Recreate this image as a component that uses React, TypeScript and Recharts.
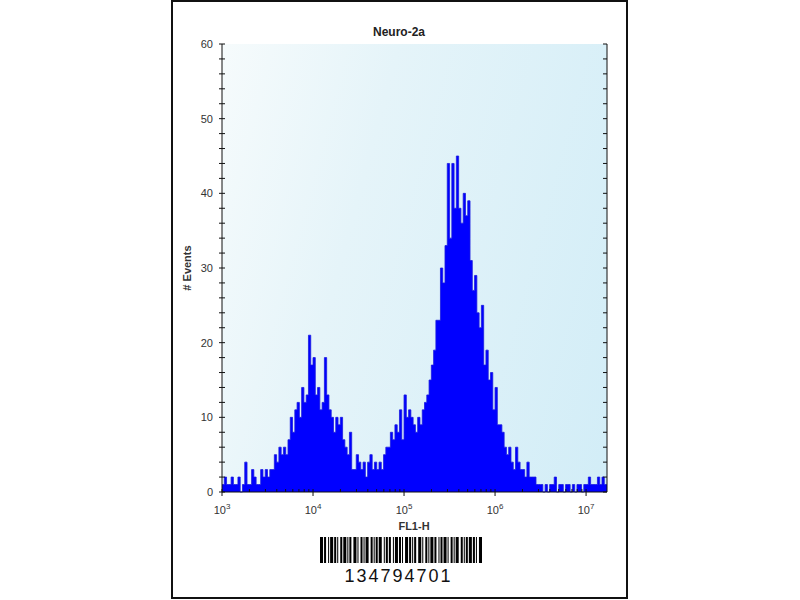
import { Area, ComposedChart, XAxis, YAxis } from 'recharts';

// FL1-H histogram, log10 channel bins starting at 10^3
const BIN_START = 3;
const BIN_WIDTH = 0.025;
const X_MAX = 7.23;

const events = [
  1, 2, 1, 1, 2, 1, 1, 2, 0, 1,
  4, 1, 1, 3, 2, 1, 1, 3, 2, 3,
  2, 3, 3, 5, 4, 6, 5, 6, 5, 7,
  10, 8, 11, 12, 10, 14, 12, 13, 21, 17,
  18, 13, 14, 11, 12, 18, 13, 11, 10, 8,
  10, 9, 10, 7, 6, 5, 8, 3, 3, 5,
  4, 3, 4, 2, 4, 5, 3, 4, 3, 4,
  3, 5, 6, 6, 8, 7, 9, 8, 11, 7,
  13, 10, 11, 10, 9, 8, 10, 9, 11, 12,
  13, 15, 17, 19, 23, 23, 30, 28, 33, 44,
  34, 44, 38, 45, 38, 36, 40, 37, 39, 31,
  27, 29, 24, 22, 25, 17, 19, 15, 16, 11,
  14, 9, 9, 8, 6, 5, 6, 4, 3, 6,
  4, 3, 3, 2, 4, 2, 2, 2, 1, 1,
  1, 0, 1, 0, 1, 1, 2, 0, 1, 1,
  0, 1, 1, 0, 1, 0, 1, 1, 0, 1,
  1, 2, 1, 1, 1, 2, 1, 2, 1, 1
];

const yTicks = [0, 2, 4, 6, 8, 10, 12, 14, 16, 18, 20, 22, 24, 26, 28, 30, 32, 34, 36, 38, 40, 42, 44, 46, 48, 50, 52, 54, 56, 58, 60];
const decades = [3, 4, 5, 6, 7];
const minorSteps = [2, 3, 4, 5, 6, 7, 8, 9];

const title = 'Neuro-2a';
const xLabel = 'FL1-H';
const yLabel = '# Events';
const barcodeText = '134794701';
// alternating bar / space widths of the barcode
const barcodeModules = [
  3, 1, 2, 2, 1, 1, 3, 1, 2, 1, 1, 2, 2, 1, 3, 1, 1, 1, 2, 2,
  3, 1, 1, 2, 2, 1, 1, 1, 3, 2, 2, 1, 1, 1, 2, 1, 3, 2, 1, 1,
  2, 1, 2, 2, 1, 1, 3, 1, 2, 1, 1, 2, 3, 1, 2, 1, 1, 1, 2, 2,
  3, 1, 1, 2, 2, 1, 1, 1, 3, 1, 2, 2, 1, 1, 2, 1, 3, 1, 1, 2,
  2, 1, 1, 1, 3, 2, 2, 1, 1, 1, 2, 1, 3, 1, 2, 1, 1, 2, 3
];

const xTicks = decades.flatMap((d) => [d, ...minorSteps.map((m) => d + Math.log10(m))]).filter((t) => t <= X_MAX);

const chartData = [
  ...events.map((count, i) => ({ fl1: BIN_START + i * BIN_WIDTH, count })),
  { fl1: BIN_START + events.length * BIN_WIDTH, count: events[events.length - 1] }
];

const font = '"Liberation Sans", Arial, sans-serif';
const isMajor = (v: number) => Math.abs(v - Math.round(v)) < 1e-6;

function BottomTick({ x, y, payload }: any) {
  const v = payload.value;
  if (!isMajor(v)) {
    return <line x1={x} x2={x} y1={y - 3} y2={y} stroke="#111" />;
  }
  return (
    <g>
      <line x1={x} x2={x} y1={y - 3} y2={y + 4} stroke="#111" />
      <text x={x} y={y + 22} textAnchor="middle" fontFamily={font} fontSize={11} fill="#333">
        <tspan>10</tspan>
        <tspan dy={-5} fontSize={8}>{Math.round(v)}</tspan>
      </text>
    </g>
  );
}

function TopTick({ x, y, payload }: any) {
  const len = isMajor(payload.value) ? 4 : 3;
  return <line x1={x} x2={x} y1={y} y2={y + len} stroke="#111" />;
}

function LeftTick({ x, y, payload }: any) {
  const v = payload.value;
  return (
    <g>
      <line x1={x - 3} x2={x + 3} y1={y} y2={y} stroke="#111" />
      {v % 10 === 0 && (
        <text x={x - 9} y={y + 4} textAnchor="end" fontFamily={font} fontSize={11} fill="#333">
          {v}
        </text>
      )}
    </g>
  );
}

function RightTick({ x, y }: any) {
  return <line x1={x - 4} x2={x} y1={y} y2={y} stroke="#111" />;
}

function Barcode() {
  const total = barcodeModules.reduce((a, b) => a + b, 0);
  const scale = 162 / total;
  let pos = 320;
  const rects: JSX.Element[] = [];
  barcodeModules.forEach((w, i) => {
    if (i % 2 === 0) {
      rects.push(<rect key={i} x={pos} y={537} width={w * scale} height={26} fill="#000" />);
    }
    pos += w * scale;
  });
  return <g>{rects}</g>;
}

export default function App() {
  return (
    <div style={{ position: 'absolute', left: 0, top: 0, width: 800, height: 600, background: '#fff' }}>
      <div
        style={{
          position: 'absolute',
          left: 171,
          top: 0,
          width: 457,
          height: 599,
          border: '2px solid #111',
          boxSizing: 'border-box'
        }}
      />
      <div
        style={{
          position: 'absolute',
          left: 222,
          top: 44,
          width: 385,
          height: 448,
          background: 'linear-gradient(105deg, #f6fbfc 0%, #e5f4f9 35%, #d2edf7 100%)'
        }}
      />
      <div style={{ position: 'absolute', left: 0, top: 0 }}>
        <ComposedChart width={800} height={600} data={chartData} margin={{ top: 44, right: 173, bottom: 78, left: 182 }}>
          <XAxis
            xAxisId="b"
            type="number"
            dataKey="fl1"
            domain={[BIN_START, X_MAX]}
            allowDataOverflow
            ticks={xTicks}
            interval={0}
            height={30}
            tickSize={0}
            tickMargin={0}
            stroke="#111"
            tick={BottomTick}
          />
          <XAxis
            xAxisId="t"
            orientation="top"
            type="number"
            dataKey="fl1"
            domain={[BIN_START, X_MAX]}
            allowDataOverflow
            ticks={xTicks}
            interval={0}
            height={0}
            tickSize={0}
            tickMargin={0}
            stroke="#111"
            tick={TopTick}
          />
          <YAxis
            yAxisId="l"
            domain={[0, 60]}
            ticks={yTicks}
            interval={0}
            width={40}
            tickSize={0}
            tickMargin={0}
            stroke="#111"
            tick={LeftTick}
          />
          <YAxis
            yAxisId="r"
            orientation="right"
            domain={[0, 60]}
            ticks={yTicks}
            interval={0}
            width={20}
            tickSize={0}
            tickMargin={0}
            stroke="#111"
            tick={RightTick}
          />
          <Area
            xAxisId="b"
            yAxisId="l"
            type="stepAfter"
            dataKey="count"
            fill="#0000ff"
            fillOpacity={1}
            stroke="#1a1ae0"
            strokeWidth={0.8}
            dot={false}
            activeDot={false}
            isAnimationActive={false}
          />
          <Area
            xAxisId="t"
            yAxisId="r"
            type="stepAfter"
            dataKey="count"
            fill="none"
            stroke="none"
            dot={false}
            activeDot={false}
            isAnimationActive={false}
          />
        </ComposedChart>
      </div>
      <svg width={800} height={600} style={{ position: 'absolute', left: 0, top: 0, pointerEvents: 'none' }}>
        <text x={399} y={36} textAnchor="middle" fontFamily={font} fontSize={12} fontWeight="bold" fill="#222">
          {title}
        </text>
        <text x={414} y={530} textAnchor="middle" fontFamily={font} fontSize={11} fontWeight="bold" fill="#333">
          {xLabel}
        </text>
        <text
          x={191}
          y={268}
          transform="rotate(-90 191 268)"
          textAnchor="middle"
          fontFamily={font}
          fontSize={11}
          fontWeight="bold"
          fill="#333"
        >
          {yLabel}
        </text>
        <Barcode />
        <text x={398.5} y={582} textAnchor="middle" fontFamily={font} fontSize={18} letterSpacing={2} fill="#111">
          {barcodeText}
        </text>
      </svg>
    </div>
  );
}
